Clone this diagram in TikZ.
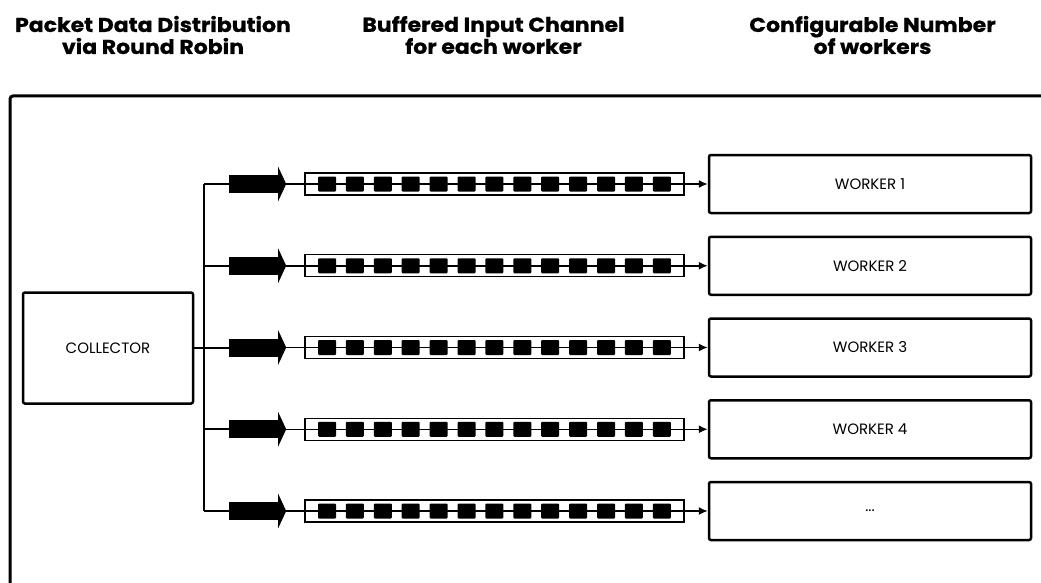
\documentclass[tikz,border=0pt]{standalone}
\usepackage{fontspec}
\setmainfont{Poppins}
\newfontfamily\headfont[FakeStretch=1.1, BoldFeatures={FakeBold=0.8}]{Poppins}
\usetikzlibrary{arrows.meta,calc}

\newcommand{\morewk}{...}

\tikzset{
	box/.style={draw, line width=2.5pt, rounded corners=2pt, inner sep=0pt},
	workerbox/.style={box, minimum width=322pt, minimum height=58pt, font=\fontsize{15}{17}\selectfont},
	chanbox/.style={draw, line width=1.3pt, minimum width=379pt, minimum height=22pt, inner sep=0pt},
	packet/.style={fill, rounded corners=1pt, minimum width=18pt, minimum height=15pt, inner sep=0pt},
	fatbody/.style={fill, minimum width=49pt, minimum height=18pt, inner sep=0pt},
	title/.style={font=\headfont\fontsize{20}{22}\selectfont\bfseries, align=center},
	wire/.style={line width=2pt}
}

\begin{document}
\begin{tikzpicture}[x=1pt, y=-1pt]
	\useasboundingbox (0,0) rectangle (1041,583);

	% headers
	\node[title] at (153,35) (head1) {Packet Data Distribution\\via Round Robin};
	\node[title] at (493.5,35) (head2) {Buffered Input Channel\\for each worker};
	\node[title] at (872.5,35) (head3) {Configurable Number\\of workers};

	% outer frame (runs off the page)
	\draw[line width=3pt, rounded corners=3pt] (10,600) -- (10,96) -- (1060,96);

	% collector
	\node[box, minimum width=170pt, minimum height=111pt, font=\fontsize{15}{17}\selectfont] at (108,348) (collector) {COLLECTOR};
	\coordinate (bustop) at (204,184);
	\coordinate (busbot) at (204,511);
	\draw[wire] (bustop) -- (busbot);
	\draw[wire] (collector.east) -- (collector.east -| bustop);

	% one row per worker
	\foreach \i/\name in {1/WORKER 1, 2/WORKER 2, 3/WORKER 3, 4/WORKER 4, 5/\morewk} {
		\pgfmathsetmacro{\y}{184+81.75*(\i-1)}
		\node[workerbox] at (870,\y) (worker\i) {\name};
		\node[chanbox] at (494.5,\y) (chan\i) {};
		\node[fatbody] at (253.5,\y) (fat\i) {};
		\fill (fat\i.north east) -- ++(0,-8) -- ($(fat\i.east)+(8,0)$) -- ($(fat\i.south east)+(0,8)$) -- (fat\i.south east) -- cycle;
		\coordinate (tip\i) at ($(fat\i.east)+(8,0)$);
		\draw[wire] (bustop |- fat\i) -- (fat\i.west);
		\draw[line width=1.5pt, -{Latex[length=9pt, width=8pt]}] (tip\i) -- (worker\i.west);
		\foreach \k in {0,...,12}
			\node[packet] at (327+27.9*\k,\y) (pk\i-\k) {};
	}
\end{tikzpicture}
\end{document}
